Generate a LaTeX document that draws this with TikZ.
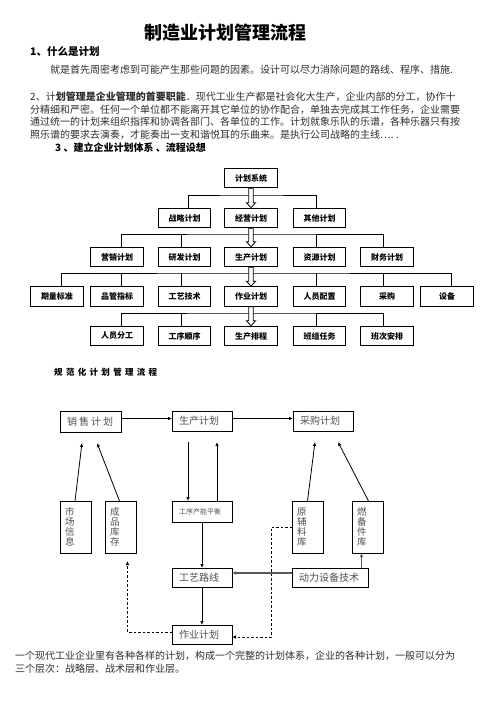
\documentclass[tikz,border=0pt]{standalone}
\usepackage{fontspec}
\setmainfont{Noto Sans CJK SC}
\usetikzlibrary{arrows.meta,calc}
\definecolor{txtg}{HTML}{505050}
\newcommand\hollowarrow[2]{\draw[line width=0.8pt,fill=white] ($(#1.south)+(-2.3,0)$) -- ($(#2.north)+(-2.3,-5)$) -- ($(#2.north)+(-4.6,-5)$) -- (#2.north) -- ($(#2.north)+(4.6,-5)$) -- ($(#2.north)+(2.3,-5)$) -- ($(#1.south)+(2.3,0)$) -- cycle;}
\begin{document}
\begin{tikzpicture}[x=1pt,y=-1pt,
 tb/.style={draw,line width=1.1pt,minimum width=52.5pt,minimum height=19.5pt,inner sep=0pt,font=\bfseries\fontsize{8}{9}\selectfont},
 fb/.style={draw,line width=0.9pt,anchor=north west,inner sep=0pt,outer sep=0pt,font=\fontsize{10}{12}\selectfont,text=txtg},
 hb/.style={fb,inner xsep=7pt,align=left},
 vb/.style={fb,minimum width=31pt,minimum height=52pt,inner xsep=5pt,text width=21pt,align=left,font=\fontsize{9.5}{10}\selectfont},
 arr/.style={-{Latex[length=4pt,width=3.5pt]},line width=0.8pt},
 garr/.style={-{Latex[length=4pt,width=3.5pt]},line width=1.5pt,draw=black!65},
 dsh/.style={-{Latex[length=4pt,width=3.5pt]},dash pattern=on 2.5pt off 2pt,line width=0.8pt},
 bar/.style={line width=0.9pt},
 txt/.style={anchor=west,inner sep=0pt,font=\fontsize{10}{12}\selectfont,text=black!82},
 hd/.style={anchor=west,inner sep=0pt,font=\bfseries\fontsize{10.5}{12}\selectfont},
]
\useasboundingbox[fill=white] (0,0) rectangle (496,702);

% ---------- header text ----------
\node[anchor=center,inner sep=0pt,font=\bfseries\fontsize{18}{20}\selectfont] (title) at (225,33) {制造业计划管理流程};
\node[hd] (h1) at (30,52) {1、什么是计划};
\node[txt] (p1) at (50,70) {就是首先周密考虑到可能产生那些问题的因素。设计可以尽力消除问题的路线、程序、措施.};
\node[txt] (p2a) at (30,97) {2、计{\bfseries 划管理是企业管理的首要职能}．现代工业生产都是社会化大生产，企业内部的分工，协作十};
\node[txt] (p2b) at (30,109.5) {分精细和严密。任何一个单位都不能离开其它单位的协作配合，单独去完成其工作任务，企业需要};
\node[txt] (p2c) at (30,122) {通过统一的计划来组织指挥和协调各部门、各单位的工作。计划就象乐队的乐谱，各种乐器只有按};
\node[txt] (p2d) at (30,135) {照乐谱的要求去演奏，才能奏出一支和谐悦耳的乐曲来。是执行公司战略的主线….~.};
\node[hd,font=\bfseries\fontsize{10}{12}\selectfont] (h3) at (55,148) {3 、建立企业计划体系 、流程设想};

% ---------- tree ----------
\node[tb] (ps) at (251,178) {计划系统};
\node[tb] (zl) at (184.5,218) {战略计划};
\node[tb] (jy) at (251,218) {经营计划};
\node[tb] (qt) at (319.5,218) {其他计划};
\node[tb] (yx) at (117,257) {营销计划};
\node[tb] (yf2) at (184.5,257) {研发计划};
\node[tb] (sc2) at (251,257) {生产计划};
\node[tb] (zy2) at (319.5,257) {资源计划};
\node[tb] (cw) at (387,257) {财务计划};
\node[tb] (ql) at (57,296.5) {期量标准};
\node[tb] (pg) at (117,296.5) {品管指标};
\node[tb] (gj) at (184.5,296.5) {工艺技术};
\node[tb] (zj) at (251,296.5) {作业计划};
\node[tb] (ry) at (319.5,296.5) {人员配置};
\node[tb] (cg2) at (387,296.5) {采购};
\node[tb] (sb) at (447,296.5) {设备};
\node[tb] (rf) at (117,336) {人员分工};
\node[tb] (gs) at (184.5,336) {工序顺序};
\node[tb] (pc) at (251,336) {生产排程};
\node[tb] (bz) at (319.5,336) {班组任务};
\node[tb] (bc) at (387,336) {班次安排};

\coordinate (b1) at (251,195);
\coordinate (b2) at (251,234);
\coordinate (b3) at (251,273);
\coordinate (b4) at (251,313);
\draw[bar] ([xshift=3.5pt]zl.north) |- (b1) -| ([xshift=-3.5pt]qt.north);
\draw[bar] ([xshift=4pt]yx.north) |- (b2) -| ([xshift=-4pt]cw.north);
\draw[bar] ([xshift=-3.5pt]yf2.north) -- ([xshift=-3.5pt]yf2.north |- b2);
\draw[bar] ([xshift=-3.5pt]zy2.north) -- ([xshift=-3.5pt]zy2.north |- b2);
\draw[bar] ([xshift=4pt]ql.north) |- (b3) -| ([xshift=4pt]sb.north);
\draw[bar] ([xshift=4pt]pg.north) -- ([xshift=4pt]pg.north |- b3);
\draw[bar] ([xshift=-3.5pt]gj.north) -- ([xshift=-3.5pt]gj.north |- b3);
\draw[bar] ([xshift=-3.5pt]ry.north) -- ([xshift=-3.5pt]ry.north |- b3);
\draw[bar] ([xshift=-4pt]cg2.north) -- ([xshift=-4pt]cg2.north |- b3);
\draw[bar] ([xshift=4pt]rf.north) |- (b4) -| ([xshift=-4pt]bc.north);
\draw[bar] ([xshift=-3.5pt]gs.north) -- ([xshift=-3.5pt]gs.north |- b4);
\draw[bar] ([xshift=-3.5pt]bz.north) -- ([xshift=-3.5pt]bz.north |- b4);
\hollowarrow{ps}{jy}
\hollowarrow{jy}{sc2}
\hollowarrow{sc2}{zj}
\hollowarrow{zj}{pc}

% ---------- flow chart ----------
\node[anchor=west,inner sep=0pt,font=\bfseries\fontsize{8.5}{10}\selectfont] (t2) at (54,372)
  {\makebox[103pt][s]{规\hfill 范\hfill 化\hfill 计\hfill 划\hfill 管\hfill 理\hfill 流\hfill 程}};

\node[hb,minimum width=61pt,minimum height=21pt,text width=47pt] (xs) at (60,411) {\makebox[46pt][s]{销\hfill 售\hfill 计\hfill 划}};
\node[hb,minimum width=60pt,minimum height=20pt,text width=46pt] (sc) at (172,411) {生产计划};
\node[hb,minimum width=60pt,minimum height=20pt,text width=46pt] (cg) at (293,411) {采购计划};
\node[vb] (sx) at (60,501) {市\\场\\信\\息};
\node[vb] (cp) at (105,501) {成\\品\\库\\存};
\node[hb,minimum width=60pt,minimum height=21pt,text width=46pt,font=\fontsize{7}{8}\selectfont] (gx) at (172,501) {工序产能平衡};
\node[vb] (yf) at (292,501) {原\\辅\\料\\库};
\node[vb] (rb) at (352,501) {燃\\备\\件\\库};
\node[hb,minimum width=60pt,minimum height=19pt,text width=46pt] (gy) at (172,568) {工艺路线};
\node[hb,minimum width=76pt,minimum height=19pt,text width=62pt] (dl) at (292,568) {动力设备技术};
\node[hb,minimum width=60pt,minimum height=19pt,text width=46pt] (zy) at (172,625) {作业计划};

\draw[arr] ([yshift=3pt]xs.east) -- ([yshift=3pt]xs.east -| sc.west);
\draw[arr] ([yshift=2.5pt]sc.east) -- ([yshift=2.5pt]sc.east -| cg.west);
\draw[arr] ([xshift=-0.5pt]sx.north) -- ($(xs.south)+(-8.5,11)$);
\draw[arr] ([xshift=-1pt]cp.north) -- ($(xs.south)+(6.5,11)$);
\draw[arr] ($(sc.south)+(-14,11)$) -- ([xshift=-14pt]gx.north);
\draw[arr] ([xshift=15pt]gx.north) -- ($(sc.south)+(15,11)$);
\draw[arr] (yf.north) -- ($(cg.south)+(-8,11)$);
\draw[arr] ([xshift=1pt]rb.north) -- ($(cg.south)+(15,11)$);
\draw[arr] (gx.south) -- (gy.north);
\draw[arr] (gy.south) -- (zy.north);
\draw[garr] ([yshift=4.5pt]dl.west) -- ([yshift=4.5pt]dl.west -| gy.east);
\draw[garr] ([xshift=-6pt]rb.south |- dl.north) -- ([xshift=-6pt]rb.south);
\coordinate (d1) at (271,637);
\draw[dsh] (yf.west) -| (d1) -- (d1 -| zy.east);
\coordinate (d2) at ($(cp.south)+(7,8)$);
\draw[dsh] ([yshift=2.5pt]zy.west) -| (d2);

% ---------- footer ----------
\node[txt] (f1) at (15,656) {一个现代工业企业里有各种各样的计划，构成一个完整的计划体系，企业的各种计划，一般可以分为};
\node[txt] (f2) at (15,669) {三个层次：战略层、战术层和作业层。};
\end{tikzpicture}
\end{document}
